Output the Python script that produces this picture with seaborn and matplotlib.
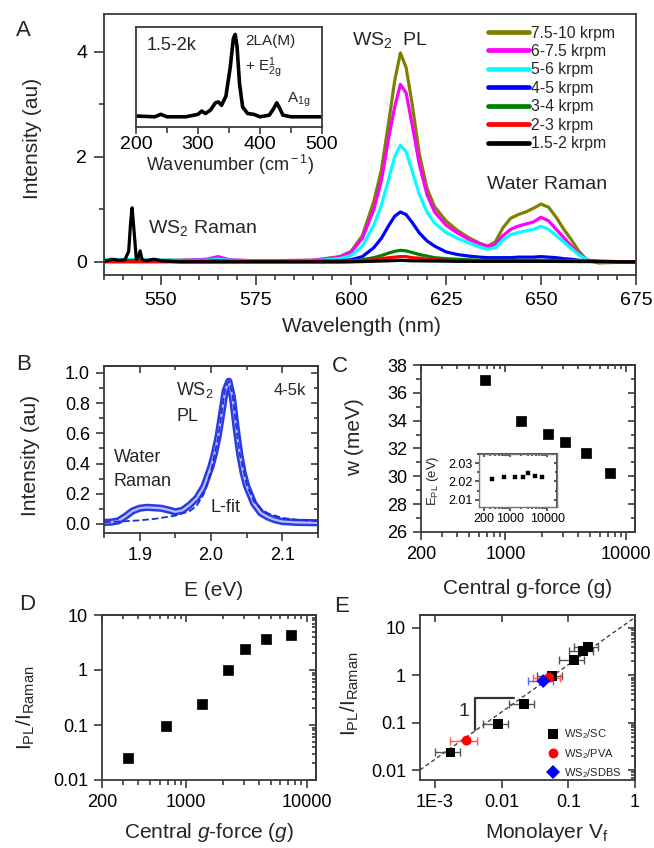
import numpy as np
import pandas as pd
import matplotlib
matplotlib.use("Agg")
import matplotlib.pyplot as plt
import matplotlib.ticker as mticker
import seaborn as sns

# === Panel A: PL / Raman spectra (wavelength in nm, intensity in au) ===
wl = [535, 545, 555, 562, 565, 568, 575, 590, 597, 600, 603, 606, 608, 610, 611.5,
      613, 614.5, 616, 618, 620, 622, 625, 628, 631, 634, 636, 638, 640, 642, 644,
      646, 648, 650, 652, 654, 656, 658, 660, 662, 665, 675]
I_75_10 = [0.02, 0.02, 0.03, 0.04, 0.08, 0.03, 0.02, 0.03, 0.1, 0.2, 0.5, 1.15, 1.75, 2.7, 3.45,
           3.98, 3.7, 3.05, 2.05, 1.4, 1.05, 0.78, 0.6, 0.46, 0.35, 0.3, 0.38, 0.65, 0.83, 0.9,
           0.95, 1.02, 1.1, 1.04, 0.85, 0.62, 0.42, 0.2, 0.04, -0.02, 0.0]
I_6_75 = [0.03, 0.03, 0.03, 0.05, 0.1, 0.04, 0.02, 0.03, 0.09, 0.18, 0.45, 1.0, 1.55, 2.4, 2.95,
          3.38, 3.22, 2.65, 1.85, 1.28, 0.95, 0.7, 0.55, 0.43, 0.34, 0.29, 0.33, 0.5, 0.62, 0.68,
          0.72, 0.76, 0.85, 0.78, 0.62, 0.46, 0.3, 0.15, 0.04, 0.0, 0.0]
I_5_6 = [0.05, 0.04, 0.03, 0.03, 0.05, 0.03, 0.02, 0.02, 0.06, 0.12, 0.3, 0.7, 1.08, 1.6, 2.0,
         2.22, 2.1, 1.75, 1.28, 0.95, 0.74, 0.56, 0.45, 0.36, 0.28, 0.24, 0.27, 0.42, 0.52, 0.56,
         0.59, 0.62, 0.68, 0.62, 0.5, 0.38, 0.25, 0.13, 0.04, 0.0, 0.0]
I_4_5 = [0.02, 0.02, 0.01, 0.01, 0.02, 0.01, 0.01, 0.01, 0.02, 0.04, 0.1, 0.27, 0.45, 0.7, 0.87,
         0.95, 0.9, 0.76, 0.55, 0.4, 0.3, 0.19, 0.14, 0.11, 0.09, 0.08, 0.08, 0.08, 0.08, 0.09,
         0.09, 0.09, 0.1, 0.09, 0.08, 0.06, 0.05, 0.03, 0.02, 0.01, 0.0]
I_3_4 = [0.01, 0.01, 0.01, 0.01, 0.01, 0.01, 0.01, 0.01, 0.01, 0.02, 0.04, 0.08, 0.12, 0.17, 0.2,
         0.22, 0.21, 0.18, 0.14, 0.11, 0.08, 0.06, 0.05, 0.04, 0.03, 0.03, 0.03, 0.03, 0.03, 0.03,
         0.03, 0.03, 0.03, 0.03, 0.03, 0.02, 0.02, 0.02, 0.02, 0.01, 0.0]
I_2_3 = [0.0, 0.0, 0.0, 0.0, 0.0, 0.0, 0.0, 0.0, 0.0, 0.01, 0.02, 0.04, 0.06, 0.08, 0.09,
         0.1, 0.1, 0.08, 0.07, 0.05, 0.04, 0.03, 0.02, 0.02, 0.02, 0.02, 0.02, 0.02, 0.02, 0.02,
         0.02, 0.02, 0.02, 0.02, 0.02, 0.02, 0.02, 0.02, 0.02, 0.01, 0.0]
wl_black = [535, 537, 538, 539, 540.5, 541.5, 542, 542.4, 542.9, 543.5, 544, 544.5, 545,
            546, 548, 549, 550, 555, 565, 600, 610, 613, 616, 630, 650, 675]
I_15_2 = [0.0, 0.05, 0.04, 0.03, 0.04, 0.2, 0.75, 1.03, 0.6, 0.05, 0.08, 0.21, 0.05,
          0.02, 0.05, 0.04, 0.02, 0.0, 0.0, 0.0, 0.02, 0.03, 0.02, 0.01, 0.01, 0.0]
samples = ["7.5-10 krpm", "6-7.5 krpm", "5-6 krpm", "4-5 krpm", "3-4 krpm", "2-3 krpm", "1.5-2 krpm"]
sample_colors = ["#808000", "#ff00ff", "#00ffff", "#0000ff", "#008000", "#ff0000", "#000000"]

# inset: Raman spectrum of 1.5-2k sample
raman_k = [200, 230, 240, 250, 280, 300, 306, 312, 320, 328, 333, 338, 345, 352, 357, 360,
           363, 367, 372, 380, 390, 400, 415, 422, 427, 432, 437, 450, 500]
raman_I = [0.01, 0.0, 0.03, 0.0, 0.0, 0.03, 0.07, 0.04, 0.08, 0.17, 0.18, 0.14, 0.25, 0.6, 0.95, 1.0,
           0.85, 0.4, 0.12, 0.04, 0.03, 0.0, 0.02, 0.1, 0.17, 0.1, 0.02, 0.0, 0.0]

# === Panel B: 4-5k spectrum vs energy + Lorentzian fit ===
E_data = [1.85, 1.86, 1.87, 1.88, 1.89, 1.90, 1.91, 1.92, 1.93, 1.94, 1.95, 1.96, 1.97, 1.98, 1.99,
          2.00, 2.005, 2.01, 2.015, 2.02, 2.025, 2.03, 2.035, 2.04, 2.045, 2.05, 2.06, 2.07, 2.08,
          2.09, 2.10, 2.12, 2.15]
I_data = [0.01, 0.012, 0.02, 0.05, 0.086, 0.104, 0.11, 0.107, 0.104, 0.093, 0.08, 0.09, 0.125, 0.17,
          0.247, 0.38, 0.47, 0.58, 0.73, 0.885, 0.945, 0.84, 0.645, 0.47, 0.34, 0.25, 0.135, 0.072,
          0.045, 0.027, 0.016, 0.01, 0.008]
E_fit = [1.85, 1.88, 1.90, 1.92, 1.95, 1.97, 1.98, 1.99, 2.00, 2.01, 2.015, 2.02, 2.025, 2.03, 2.035,
         2.04, 2.05, 2.06, 2.07, 2.08, 2.10, 2.12, 2.15]
I_fit = [0.012, 0.018, 0.024, 0.033, 0.055, 0.085, 0.12, 0.2, 0.35, 0.57, 0.74, 0.9, 0.945, 0.86,
         0.66, 0.47, 0.26, 0.15, 0.1, 0.07, 0.04, 0.028, 0.018]

# === Panels C, D: vs central g-force ===
g_force = [330, 680, 1350, 2230, 3080, 4620, 7350]
width_meV = [36.9, 34.0, 33.05, 32.45, 31.7, 30.25]      # no value for the first g
E_PL = [2.0215, 2.0222, 2.0222, 2.0223, 2.0244, 2.0232, 2.0224]
ratio_D = [0.0248, 0.096, 0.241, 0.986, 2.38, 3.61, 4.27]

# === Panel E: ratio vs monolayer volume fraction ===
sc_vf = [0.00172, 0.0089, 0.0219, 0.0575, 0.1216, 0.168, 0.2]
sc_ratio = [0.0236, 0.095, 0.246, 0.975, 2.15, 3.28, 3.98]
sc_err = [0.0007, 0.0036, 0.009, 0.023, 0.05, 0.067, 0.08]
pva_vf = [0.003, 0.052]
pva_ratio = [0.042, 0.9]
pva_err = [0.0013, 0.022]
sdbs_vf = [0.0422]
sdbs_ratio = [0.76]
sdbs_err = [0.017]
guide_x = [6e-4, 1.0]
guide_y = [0.0101, 16.8]
slope_x = [0.00407, 0.00407, 0.0155]
slope_y = [0.0697, 0.335, 0.335]

# --- style ---
sns.set_style("ticks")
plt.rcParams['font.family'] = ['Liberation Sans', 'DejaVu Sans']
plt.rcParams['mathtext.fontset'] = 'custom'
plt.rcParams['mathtext.rm'] = 'Liberation Sans'
plt.rcParams['mathtext.it'] = 'Liberation Sans:italic'
plt.rcParams['mathtext.bf'] = 'Liberation Sans:bold'
FRAME = "#3a3a3a"

fig = plt.figure(figsize=(6.54, 8.48), dpi=100)


def box(l, t, r, b):
    return [l / 654, 1 - b / 848, (r - l) / 654, (b - t) / 848]


def ftext(px, py, s, **kw):
    kw.setdefault('ha', 'center')
    kw.setdefault('va', 'center')
    fig.text(px / 654, 1 - py / 848, s, **kw)


def frame(ax, size, pad=4, length=6):
    for sp in ax.spines.values():
        sp.set_visible(True)
        sp.set_color(FRAME)
        sp.set_linewidth(1.3)
    ax.tick_params(which='both', direction='out', color=FRAME, width=1.2,
                   labelsize=size, labelcolor='black', pad=pad)
    ax.tick_params(which='major', length=length)
    ax.tick_params(which='minor', length=length * 0.55)
    ax.set_xlabel('')
    ax.set_ylabel('')


def mirror(ax, length=5):
    # top/right ticks pointing inward, like the original Origin plots
    top = ax.secondary_xaxis('top')
    right = ax.secondary_yaxis('right')
    top.set_xticks(ax.xaxis.get_majorticklocs())
    top.set_xticks(ax.xaxis.get_minorticklocs(), minor=True)
    right.set_yticks(ax.yaxis.get_majorticklocs())
    right.set_yticks(ax.yaxis.get_minorticklocs(), minor=True)
    top.tick_params(which='both', direction='in', color=FRAME, width=1.2, labeltop=False)
    right.tick_params(which='both', direction='in', color=FRAME, width=1.2, labelright=False)
    for sec in (top, right):
        sec.tick_params(which='major', length=length)
        sec.tick_params(which='minor', length=length * 0.55)
        for sp in sec.spines.values():
            sp.set_color(FRAME)
            sp.set_linewidth(1.3)


# ===== A =====
axA = fig.add_axes(box(104, 14, 636, 275))
series_A = [I_75_10, I_6_75, I_5_6, I_4_5, I_3_4, I_2_3]
frames = [pd.DataFrame({'wl': wl, 'I': vals, 'sample': name})
          for name, vals in zip(samples[:-1], series_A)]
frames.append(pd.DataFrame({'wl': wl_black, 'I': I_15_2, 'sample': samples[-1]}))
dfA = pd.concat(frames, ignore_index=True)
sns.lineplot(data=dfA, x='wl', y='I', hue='sample', hue_order=samples,
             palette=dict(zip(samples, sample_colors)), lw=2.3,
             sort=False, estimator=None, ax=axA)
axA.set_xlim(535, 675)
axA.set_ylim(-0.25, 4.72)
axA.xaxis.set_major_locator(mticker.MultipleLocator(25))
axA.xaxis.set_minor_locator(mticker.MultipleLocator(5))
axA.yaxis.set_major_locator(mticker.MultipleLocator(2))
axA.yaxis.set_minor_locator(mticker.MultipleLocator(1))
frame(axA, 14, pad=5, length=7)
sns.move_legend(axA, 'upper left', bbox_to_anchor=(0.695, 1.01), frameon=False, title=None,
                fontsize=11.3, handlelength=2.6, labelspacing=0.22, handletextpad=0.15)
for h in axA.get_legend().legend_handles:
    h.set_linewidth(3.4)
axA.text(610.3, 4.23, 'WS$_{\\rm 2}$  PL', fontsize=14, ha='center', va='center')
axA.text(651.6, 1.47, 'Water Raman', fontsize=14, ha='center', va='center')
axA.text(560.8, 0.65, 'WS$_{\\rm 2}$ Raman', fontsize=14, ha='center', va='center')

axAi = fig.add_axes(box(136, 27, 322, 126.7))
sns.lineplot(x=raman_k, y=raman_I, color='black', lw=2.6, sort=False, estimator=None, ax=axAi)
axAi.set_xlim(200, 500)
axAi.set_ylim(-0.12, 1.09)
axAi.xaxis.set_major_locator(mticker.MultipleLocator(100))
axAi.xaxis.set_minor_locator(mticker.MultipleLocator(50))
axAi.set_yticks([])
frame(axAi, 14, pad=1.5, length=5)
axAi.tick_params(which='minor', length=4)
axAi.text(258, 0.865, '1.5-2k', fontsize=13, ha='center', va='center')
axAi.text(376, 0.915, '2LA(M)', fontsize=11, ha='left', va='center')
axAi.text(376, 0.60, '+ E$_{\\rm 2g}^{\\rm 1}$', fontsize=11, ha='left', va='center')
axAi.text(443, 0.2, 'A$_{\\rm 1g}$', fontsize=11, ha='left', va='center')
ftext(230, 165, 'Wavenumber (cm$^{\\rm -1}$)', fontsize=13)

ftext(32, 138, 'Intensity (au)', fontsize=15, rotation=90)
ftext(361, 327, 'Wavelength (nm)', fontsize=15)
ftext(23, 31, 'A', fontsize=16)

# ===== B =====
axB = fig.add_axes(box(104, 366, 318, 533))
sns.lineplot(x=E_data, y=I_data, color='#2a3be6', lw=5.2, sort=False, estimator=None, ax=axB)
sns.lineplot(x=E_data, y=I_data, color='#b9c0ff', lw=1.6, sort=False, estimator=None, ax=axB)
sns.lineplot(x=E_fit, y=I_fit, color='#1f2fd8', lw=1.3, dashes=(5, 3), linestyle='--',
             sort=False, estimator=None, ax=axB)
axB.set_xlim(1.85, 2.15)
axB.set_ylim(-0.06, 1.046)
axB.xaxis.set_major_locator(mticker.MultipleLocator(0.1))
axB.xaxis.set_minor_locator(mticker.MultipleLocator(0.05))
axB.yaxis.set_major_locator(mticker.MultipleLocator(0.2))
axB.yaxis.set_minor_locator(mticker.MultipleLocator(0.1))
axB.xaxis.set_major_formatter(mticker.FormatStrFormatter('%.1f'))
axB.yaxis.set_major_formatter(mticker.FormatStrFormatter('%.1f'))
frame(axB, 13, pad=4, length=6)
mirror(axB)
axB.text(1.951, 0.887, 'WS$_{\\rm 2}$', fontsize=13, ha='left', va='center')
axB.text(1.951, 0.71, 'PL', fontsize=13, ha='left', va='center')
axB.text(2.11, 0.887, '4-5k', fontsize=12, ha='center', va='center')
axB.text(1.864, 0.437, 'Water', fontsize=13, ha='left', va='center')
axB.text(1.864, 0.278, 'Raman', fontsize=13, ha='left', va='center')
axB.text(2.021, 0.106, 'L-fit', fontsize=13, ha='center', va='center')
ftext(30, 455, 'Intensity (au)', fontsize=15, rotation=90)
ftext(214, 591, 'E (eV)', fontsize=15)
ftext(24, 364, 'B', fontsize=16)


def g_axis(ax):
    ax.set_xscale('log')
    ax.xaxis.set_major_locator(mticker.FixedLocator([200, 1000, 10000]))
    ax.xaxis.set_major_formatter(mticker.FixedFormatter(['200', '1000', '10000']))
    ax.xaxis.set_minor_locator(mticker.LogLocator(subs=np.arange(2, 10)))
    ax.xaxis.set_minor_formatter(mticker.NullFormatter())


# ===== C =====
axC = fig.add_axes(box(421, 365, 635, 532))
sns.scatterplot(x=g_force[1:], y=width_meV, marker='s', s=50, color='black',
                edgecolor='black', linewidth=0.5, ax=axC)
g_axis(axC)
axC.set_xlim(200, 11800)
axC.set_ylim(26, 38)
axC.yaxis.set_major_locator(mticker.MultipleLocator(2))
axC.yaxis.set_minor_locator(mticker.MultipleLocator(1))
frame(axC, 13, pad=4, length=6)
mirror(axC)
ftext(355, 437, 'w (meV)', fontsize=15, rotation=90)
ftext(528, 589, 'Central g-force (g)', fontsize=15)
ftext(340, 367, 'C', fontsize=16)

axCi = fig.add_axes(box(479, 454, 557, 507))
sns.scatterplot(x=g_force, y=E_PL, marker='s', s=10, color='black',
                edgecolor='black', linewidth=0.3, ax=axCi)
g_axis(axCi)
axCi.set_xlim(150, 18000)
axCi.set_ylim(2.006, 2.035)
axCi.yaxis.set_major_locator(mticker.MultipleLocator(0.01))
axCi.yaxis.set_minor_locator(mticker.MultipleLocator(0.005))
axCi.yaxis.set_major_formatter(mticker.FormatStrFormatter('%.2f'))
frame(axCi, 9, pad=1.5, length=3)
for sp in axCi.spines.values():
    sp.set_color('#777777')
    sp.set_linewidth(1.0)
mirror(axCi, length=2.5)
ftext(433, 481, 'E$_{\\rm PL}$ (eV)', fontsize=9.5, rotation=90)

# ===== D =====
axD = fig.add_axes(box(102, 615, 316, 780))
sns.scatterplot(x=g_force, y=ratio_D, marker='s', s=50, color='black',
                edgecolor='black', linewidth=0.5, ax=axD)
g_axis(axD)
axD.set_yscale('log')
axD.set_xlim(200, 11900)
axD.set_ylim(0.01, 10)
axD.yaxis.set_major_locator(mticker.FixedLocator([0.01, 0.1, 1, 10]))
axD.yaxis.set_major_formatter(mticker.FixedFormatter(['0.01', '0.1', '1', '10']))
axD.yaxis.set_minor_locator(mticker.LogLocator(subs=np.arange(2, 10)))
axD.yaxis.set_minor_formatter(mticker.NullFormatter())
frame(axD, 13, pad=4, length=6)
axD.tick_params(axis='y', which='minor', length=0)
mirror(axD)
ftext(26, 708, 'I$_{\\rm PL}$/I$_{\\rm Raman}$', fontsize=15, rotation=90)
ftext(209, 833, 'Central $g$-force ($g$)', fontsize=15)
ftext(27, 605, 'D', fontsize=16)

# ===== E =====
axE = fig.add_axes(box(420, 615, 635, 780))
axE.plot(guide_x, guide_y, ls=(0, (3, 2)), color='#444444', lw=1.0)
axE.errorbar(sc_vf, sc_ratio, xerr=sc_err, fmt='none', ecolor='#555555', elinewidth=1.0, capsize=3)
axE.errorbar(pva_vf, pva_ratio, xerr=pva_err, fmt='none', ecolor='#ff5555', elinewidth=1.0, capsize=3)
axE.errorbar(sdbs_vf, sdbs_ratio, xerr=sdbs_err, fmt='none', ecolor='#5566ff', elinewidth=1.0, capsize=3)
labels_E = ['WS$_{\\rm 2}$/SC', 'WS$_{\\rm 2}$/PVA', 'WS$_{\\rm 2}$/SDBS']
dfE = pd.concat([
    pd.DataFrame({'vf': sc_vf, 'ratio': sc_ratio, 'grp': labels_E[0]}),
    pd.DataFrame({'vf': pva_vf, 'ratio': pva_ratio, 'grp': labels_E[1]}),
    pd.DataFrame({'vf': sdbs_vf, 'ratio': sdbs_ratio, 'grp': labels_E[2]}),
], ignore_index=True)
sns.scatterplot(data=dfE, x='vf', y='ratio', hue='grp', style='grp', hue_order=labels_E,
                style_order=labels_E, markers=dict(zip(labels_E, ['s', 'o', 'D'])),
                palette=dict(zip(labels_E, ['black', 'red', 'blue'])), s=50,
                edgecolor='none', linewidth=0, ax=axE, zorder=5)
axE.plot(slope_x, slope_y, color='#333333', lw=1.6)
axE.text(0.00272, 0.17, '1', fontsize=14, ha='center', va='center')
axE.set_xscale('log')
axE.set_yscale('log')
axE.set_xlim(6e-4, 1)
axE.set_ylim(0.0062, 18.8)
axE.xaxis.set_major_locator(mticker.FixedLocator([1e-3, 1e-2, 1e-1, 1]))
axE.xaxis.set_major_formatter(mticker.FixedFormatter(['1E-3', '0.01', '0.1', '1']))
axE.xaxis.set_minor_locator(mticker.LogLocator(subs=np.arange(2, 10)))
axE.xaxis.set_minor_formatter(mticker.NullFormatter())
axE.yaxis.set_major_locator(mticker.FixedLocator([0.01, 0.1, 1, 10]))
axE.yaxis.set_major_formatter(mticker.FixedFormatter(['0.01', '0.1', '1', '10']))
axE.yaxis.set_minor_locator(mticker.LogLocator(subs=np.arange(2, 10)))
axE.yaxis.set_minor_formatter(mticker.NullFormatter())
frame(axE, 13, pad=4, length=6)
axE.tick_params(axis='y', which='minor', length=0)
mirror(axE)
sns.move_legend(axE, 'upper left', bbox_to_anchor=(0.53, 0.365), frameon=False, title=None,
                fontsize=8, handletextpad=0.0, labelspacing=0.5, borderpad=0.2)
ftext(350, 694, 'I$_{\\rm PL}$/I$_{\\rm Raman}$', fontsize=15, rotation=90)
ftext(547, 833, 'Monolayer V$_{\\rm f}$', fontsize=15)
ftext(342, 607, 'E', fontsize=16)

fig.savefig('out.png', dpi=100)
